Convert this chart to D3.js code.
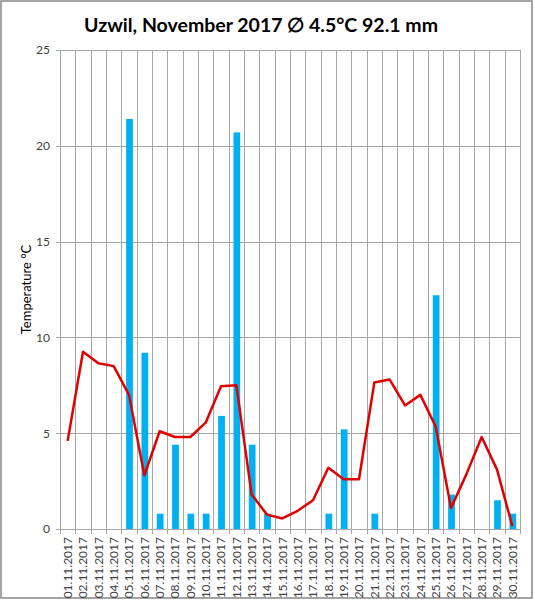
<!DOCTYPE html>
<html>
<head>
<meta charset="utf-8">
<script src="https://cdn.jsdelivr.net/npm/d3@7"></script>
<style>
  html, body { margin: 0; padding: 0; background: #fff; }
  svg { display: block; }
</style>
</head>
<body>
<script>
const days = ["01.11.2017","02.11.2017","03.11.2017","04.11.2017","05.11.2017","06.11.2017","07.11.2017","08.11.2017","09.11.2017","10.11.2017","11.11.2017","12.11.2017","13.11.2017","14.11.2017","15.11.2017","16.11.2017","17.11.2017","18.11.2017","19.11.2017","20.11.2017","21.11.2017","22.11.2017","23.11.2017","24.11.2017","25.11.2017","26.11.2017","27.11.2017","28.11.2017","29.11.2017","30.11.2017"];
const temperature = [4.6,9.25,8.65,8.5,7.0,2.8,5.1,4.8,4.8,5.55,7.45,7.5,1.8,0.75,0.55,0.95,1.5,3.2,2.6,2.6,7.65,7.8,6.45,7.0,5.35,1.1,2.85,4.8,3.1,0.15];
const precipitation = [0,0,0,0,21.4,9.2,0.8,4.4,0.8,0.8,5.9,20.7,4.4,0.8,0,0,0,0.8,5.2,0,0.8,0,0,0,12.2,1.8,0,0,1.5,0.8];
const yTicks = [0,5,10,15,20,25];
const title = "Uzwil, November 2017 \u2205 4.5°C 92.1 mm";
const yTitle = "Temperature °C";

const W = 535, H = 600;
const m = {left: 60, right: 15, top: 50, bottom: 71};
const svg = d3.select("body").append("svg").attr("width", W).attr("height", H);

svg.append("rect").attr("x", 1).attr("y", 1).attr("width", 531).attr("height", 597)
  .attr("fill", "#fff").attr("stroke", "#868686").attr("stroke-width", 1.5);

const x = d3.scaleBand().domain(days).range([m.left, W - m.right]).paddingInner(0).paddingOuter(0);
const y = d3.scaleLinear().domain([0, 25]).range([H - m.bottom, m.top]);

const g = svg.append("g");
const gridColor = "#a6a6a6";

// horizontal gridlines
g.append("g").selectAll("line").data(yTicks).join("line")
  .attr("x1", m.left - 4).attr("x2", W - m.right)
  .attr("y1", d => Math.round(y(d)) + 0.5).attr("y2", d => Math.round(y(d)) + 0.5)
  .attr("stroke", gridColor).attr("stroke-width", 1);

// vertical gridlines at category boundaries (with tick marks below)
const bounds = days.map(d => x(d)).concat([x(days[days.length - 1]) + x.bandwidth()]);
g.append("g").selectAll("line").data(bounds).join("line")
  .attr("x1", d => Math.round(d) + 0.5).attr("x2", d => Math.round(d) + 0.5)
  .attr("y1", y(25)).attr("y2", y(0) + 5)
  .attr("stroke", gridColor).attr("stroke-width", 1);

// y axis labels
const yAxis = d3.axisLeft(y).tickValues(yTicks).tickSize(0).tickPadding(10);
const ya = svg.append("g").attr("transform", `translate(${m.left},0)`).call(yAxis);
ya.select(".domain").remove();
ya.selectAll("text").attr("font-family", "Lato, 'Open Sans', sans-serif").attr("font-size", 12).attr("fill", "#404040");

// bars
const bw = x.bandwidth() * 0.44;
g.append("g").selectAll("rect").data(days.map((d, i) => ({d, v: precipitation[i]})).filter(o => o.v > 0)).join("rect")
  .attr("x", o => x(o.d) + x.bandwidth() / 2 - bw / 2 + 0.5)
  .attr("width", bw)
  .attr("y", o => y(o.v))
  .attr("height", o => y(0) - y(o.v))
  .attr("fill", "#00b0f0");

// x axis line
g.append("line").attr("x1", m.left).attr("x2", W - m.right)
  .attr("y1", Math.round(y(0)) + 0.5).attr("y2", Math.round(y(0)) + 0.5)
  .attr("stroke", gridColor);

// temperature line
const line = d3.line().x((d, i) => x(days[i]) + x.bandwidth() / 2).y(d => y(d));
g.append("path").datum(temperature).attr("d", line)
  .attr("fill", "none").attr("stroke", "#e00000").attr("stroke-width", 2.5).attr("stroke-linejoin", "round");

// x axis labels
const xAxis = d3.axisBottom(x).tickSize(0).tickPadding(0);
const xa = svg.append("g").attr("transform", `translate(0,${y(0)})`).call(xAxis);
xa.select(".domain").remove();
xa.selectAll("text")
  .attr("font-family", "Lato, 'Open Sans', sans-serif").attr("font-size", 12).attr("fill", "#404040")
  .attr("transform", "rotate(-90)")
  .attr("text-anchor", "end")
  .attr("x", -8).attr("y", 0).attr("dy", "0.35em");

// titles
svg.append("text").attr("x", 261).attr("y", 32).attr("text-anchor", "middle")
  .attr("font-family", "Lato, 'Open Sans', sans-serif").attr("font-weight", "bold").attr("font-size", 19.5)
  .attr("fill", "#000").text(title);

svg.append("text").attr("transform", `translate(31,${(y(0) + y(25)) / 2}) rotate(-90)`)
  .attr("text-anchor", "middle")
  .attr("font-family", "Lato, 'Open Sans', sans-serif").attr("font-size", 13)
  .attr("fill", "#000").text(yTitle);
</script>
</body>
</html>
